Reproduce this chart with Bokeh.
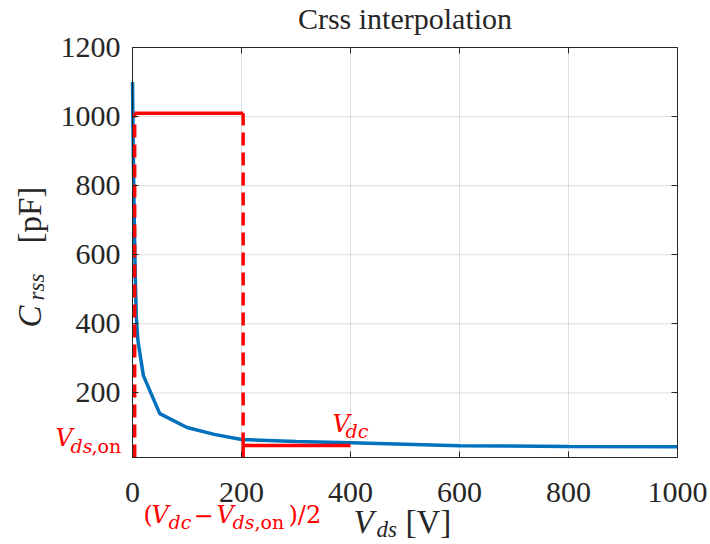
import math
from bokeh.plotting import figure
from bokeh.models import Label, LinearAxis, FixedTicker, Range1d
from bokeh.embed import file_html
from bokeh.resources import INLINE

# ---- data ----
vds = [0, 1, 2, 3, 5, 7, 10, 20, 50, 100, 150, 200, 300, 400, 600, 800, 1000]
crss = [1100, 960, 830, 720, 540, 420, 350, 250, 140, 100, 80, 65, 59, 56, 47, 45, 44]

vds_on = 4
vdc = 400
v_mid = 203
c_top = 1010
c_low = 48

x_ticks = [0, 200, 400, 600, 800, 1000]
y_ticks = [200, 400, 600, 800, 1000, 1200]
x_lim = (0, 1000)
y_lim = (13, 1200)

# ---- layout (pixels) ----
W, H = 710, 544
FL, FR, FT, FB = 132, 677, 47, 457   # the plot box inside the canvas
sx = (FR - FL) / (x_lim[1] - x_lim[0])
sy = (FB - FT) / (y_lim[1] - y_lim[0])
x_range = Range1d(x_lim[0] - FL / sx, x_lim[1] + (W - FR) / sx)
y_range = Range1d(y_lim[0] - (H - FB) / sy, y_lim[1] + FT / sy)

def dx(px):
    return x_lim[0] + (px - FL) / sx

def dy(py):
    return y_lim[0] + (FB - py) / sy

AX = "#262626"
SERIF = "Liberation Serif"
RED = "#FF0000"
RFONT = "DejaVu Serif"
K = 0.33  # baseline correction (fraction of font size)

p = figure(width=W, height=H, output_backend="svg", toolbar_location=None,
           x_range=x_range, y_range=y_range,
           min_border=0, min_border_left=0, min_border_right=0,
           min_border_top=0, min_border_bottom=0, title=None)
p.background_fill_color = "white"
p.border_fill_color = "white"
p.outline_line_color = None
p.xgrid.visible = False
p.ygrid.visible = False

def style_axis(a, labels=True):
    a.axis_line_color = AX
    a.axis_line_width = 1
    a.major_tick_line_color = AX
    a.major_tick_in = 6
    a.major_tick_out = 0
    a.minor_tick_line_color = None
    if labels:
        a.major_label_text_font = SERIF
        a.major_label_text_font_size = "30px"
        a.major_label_text_color = AX
    else:
        a.major_label_text_font_size = "0px"
        a.major_label_standoff = 0

xa = p.xaxis[0]
ya = p.yaxis[0]
style_axis(xa)
style_axis(ya)
xa.ticker = FixedTicker(ticks=x_ticks)
ya.ticker = FixedTicker(ticks=y_ticks)
xa.fixed_location = y_lim[0]
ya.fixed_location = x_lim[0]
xa.bounds = x_lim
ya.bounds = y_lim
xa.major_label_standoff = 25
ya.major_label_standoff = 12

top = LinearAxis(ticker=FixedTicker(ticks=x_ticks), fixed_location=y_lim[1], bounds=x_lim)
top.major_label_overrides = {t: "" for t in x_ticks}
style_axis(top, labels=False)
p.add_layout(top, "above")
right = LinearAxis(ticker=FixedTicker(ticks=y_ticks), fixed_location=x_lim[1], bounds=y_lim)
right.major_label_overrides = {t: "" for t in y_ticks}
style_axis(right, labels=False)
p.add_layout(right, "right")

# grid lines inside the box
gx = x_ticks[1:-1]
gy = y_ticks[:-1]
p.segment(x0=gx, y0=[y_lim[0]] * len(gx), x1=gx, y1=[y_lim[1]] * len(gx),
          line_color=AX, line_alpha=0.15, line_width=1)
p.segment(x0=[x_lim[0]] * len(gy), y0=gy, x1=[x_lim[1]] * len(gy), y1=gy,
          line_color=AX, line_alpha=0.15, line_width=1)

# curve
p.line(vds, crss, line_color="#0072BD", line_width=3.5)

# red construction lines
dash = "13 7"
p.line([vds_on, vds_on], [y_lim[0], c_top], line_color=RED, line_width=3.5, line_dash=dash)
p.line([vds_on, v_mid], [c_top, c_top], line_color=RED, line_width=3.5)
p.line([v_mid, v_mid], [c_low, c_top], line_color=RED, line_width=3.5, line_dash=dash)
p.line([v_mid, v_mid], [y_lim[0], c_low], line_color=RED, line_width=3.5)
p.line([v_mid, vdc], [c_low, c_low], line_color=RED, line_width=3.5)

def lab(text, px, py, size, style="normal", color=AX, font=SERIF, rotated=False, align="left"):
    if rotated:
        px = px - K * size
        angle = math.pi / 2
    else:
        py = py - K * size
        angle = 0.0
    p.add_layout(Label(x=dx(px), y=dy(py), text=text, text_font=font,
                       text_font_size=f"{size}px", text_font_style=style,
                       text_color=color, angle=angle, text_align=align,
                       text_baseline="alphabetic"))

# title
lab("Crss interpolation", (FL + FR) / 2, 28, 30, align="center")

# x label: V_ds [V]
lab("V", 353, 532, 33, "italic")
lab("ds", 376, 537, 23, "italic")
lab("[V]", 405, 532, 33)

# y label: C_rss [pF] (rotated)
lab("C", 40, 327, 33, "italic", rotated=True)
lab("rss", 44, 300, 23, "italic", rotated=True)
lab("[pF]", 40, 243, 33, rotated=True)

# red annotations
lab("V", 55, 445, 24, "italic", RED, RFONT)
lab("ds", 70, 452, 19, "italic", RED, RFONT)
lab(",on", 91, 452, 19, "normal", RED, RFONT)

lab("V", 332, 431, 24, "italic", RED, RFONT)
lab("dc", 345, 437, 19, "italic", RED, RFONT)

lab("(", 143, 522, 24, "normal", RED, RFONT)
lab("V", 151, 522, 24, "italic", RED, RFONT)
lab("dc", 168, 528, 19, "italic", RED, RFONT)
lab("\u2212", 193, 522, 24, "normal", RED, RFONT)
lab("V", 216, 522, 24, "italic", RED, RFONT)
lab("ds", 232, 528, 19, "italic", RED, RFONT)
lab(",on", 254, 528, 19, "normal", RED, RFONT)
lab(")/2", 288, 522, 24, "normal", RED, RFONT)

open("out.html", "w").write(file_html(p, INLINE))
